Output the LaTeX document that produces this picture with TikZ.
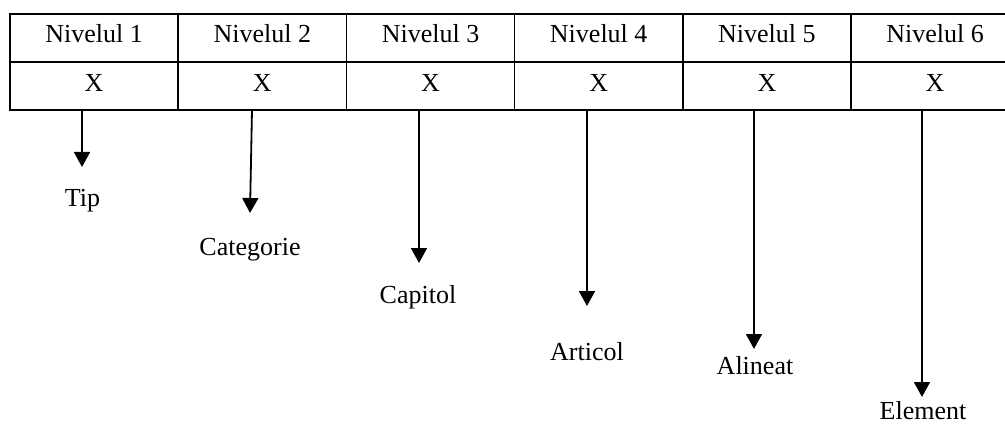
\documentclass[tikz,border=0pt]{standalone}
\usepackage{fontspec}
\setmainfont{Liberation Serif}
\usetikzlibrary{arrows.meta}
\tikzset{
  cell/.style={draw, line width=1.7pt, minimum width=168.2pt, minimum height=48pt, inner sep=0pt},
  txt/.style={anchor=base, inner sep=0pt, font=\fontsize{26}{30}\selectfont},
  levelarrow/.style={line width=1.8pt, -{Triangle[length=15pt, width=16pt]}}
}
\begin{document}
\begin{tikzpicture}[x=1pt, y=-1pt]
\useasboundingbox (0,0) rectangle (1005,425);
\clip (0,0) rectangle (1005,425);
\foreach \i in {1,...,6}{
  \pgfmathsetmacro{\cx}{10+168.2*(\i-0.5)}
  \node[cell] (h\i) at (\cx,38) {};
  \node[cell] (v\i) at (\cx,86) {};
  \node[txt] (ht\i) at (\cx,43) {Nivelul \i};
  \node[txt] (vt\i) at (\cx,92) {X};
}
% labels
\node[txt] (tip) at (82.5,207) {Tip};
\node[txt] (cat) at (250,255) {Categorie};
\node[txt] (cap) at (418,303) {Capitol};
\node[txt] (art) at (587,360) {Articol};
\node[txt] (ali) at (755,374) {Alineat};
\node[txt] (ele) at (923,419) {Element};
% arrow endpoints
\coordinate (s1) at (82,110);  \coordinate (e1) at (82,167);
\coordinate (s2) at (252,110); \coordinate (e2) at (250,213);
\coordinate (s3) at (419,110); \coordinate (e3) at (419,263);
\coordinate (s4) at (587,110); \coordinate (e4) at (587,306);
\coordinate (s5) at (754,110); \coordinate (e5) at (754,349);
\coordinate (s6) at (922,110); \coordinate (e6) at (922,397);
\foreach \k in {1,...,6}{
  \draw[levelarrow] (s\k) -- (e\k);
}
\end{tikzpicture}
\end{document}
